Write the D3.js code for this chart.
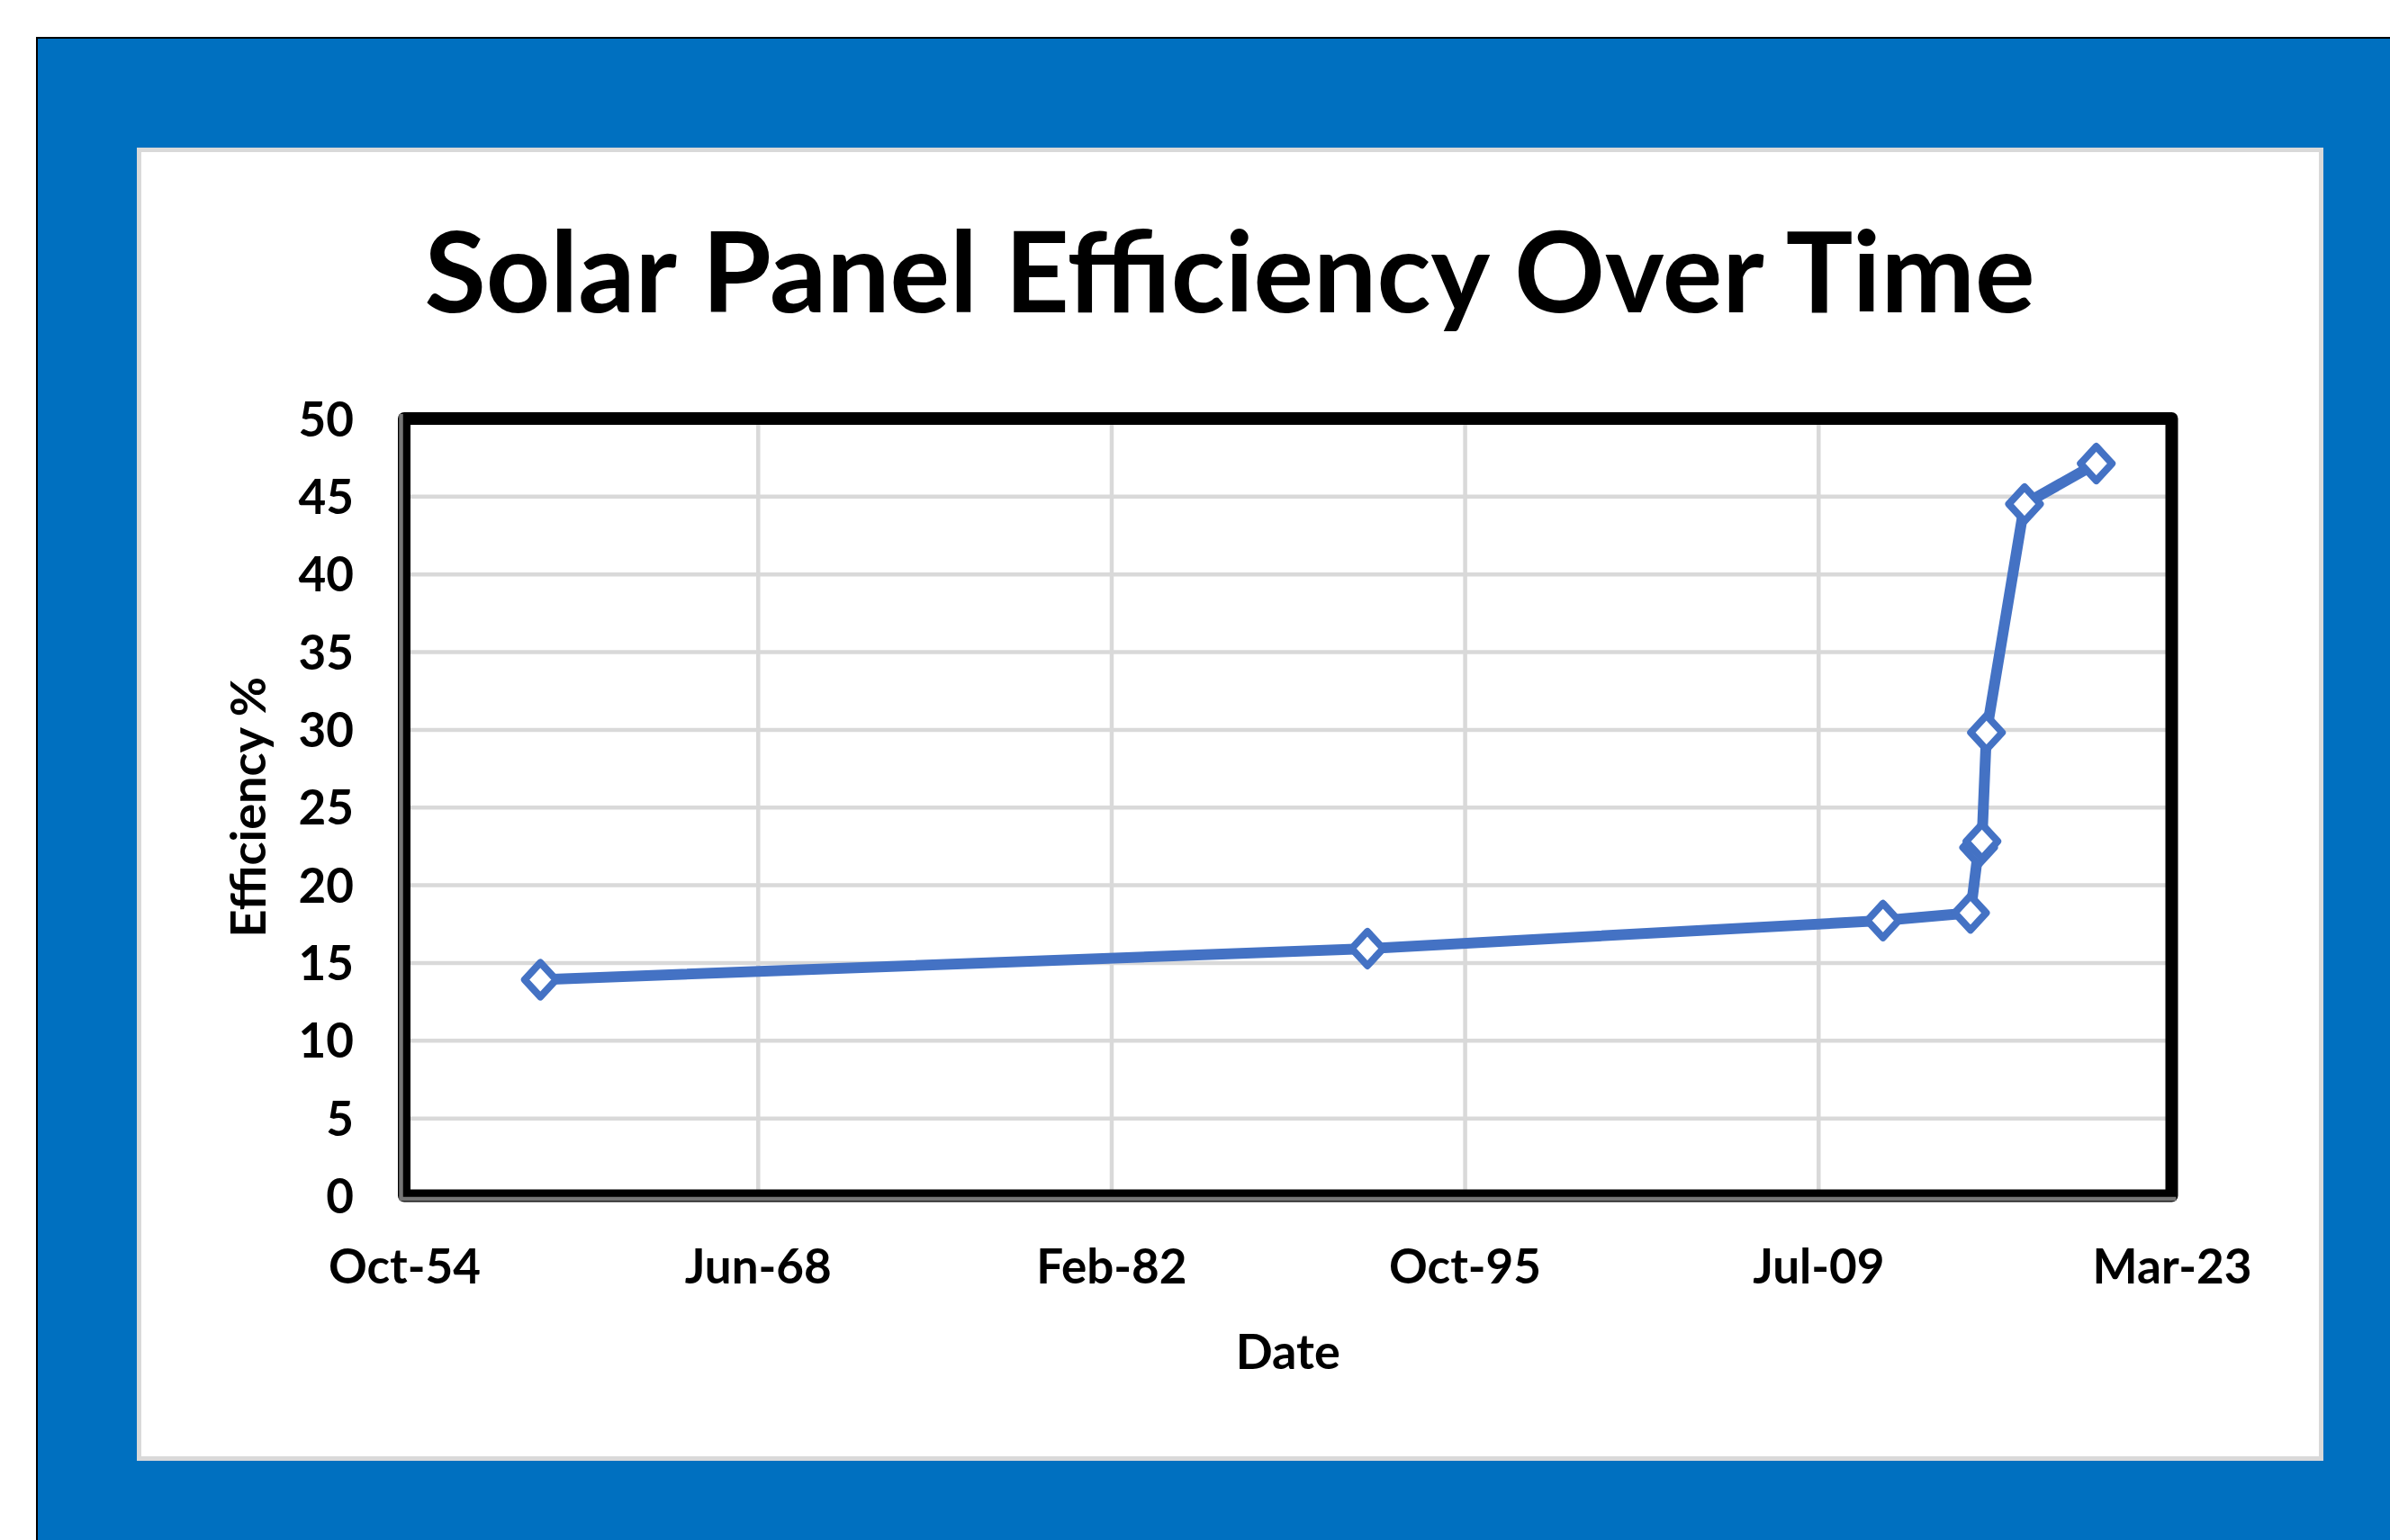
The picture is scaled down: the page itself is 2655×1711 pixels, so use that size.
<!DOCTYPE html>
<html>
<head>
<meta charset="utf-8">
<script src="https://cdn.jsdelivr.net/npm/d3@7"></script>
<style>
  body { margin: 0; background: #fff; }
  text { font-family: Lato, "Noto Sans", sans-serif; font-weight: bold; fill: #000; }
</style>
</head>
<body>
<div id="container"></div>
<script>
/* DATA */
const dates = ["1960-01-11", "1992-01-21", "2012-01-08", "2015-05-30", "2015-09-22",
               "2015-11-08", "2016-01-11", "2017-07-02", "2020-04-12"];
const efficiency = [13.9, 15.9, 17.7, 18.2, 22.4, 22.8, 29.8, 44.5, 47.1];

const yTicks = [0, 5, 10, 15, 20, 25, 30, 35, 40, 45, 50];
const xTickDates = ["1954-10-03", "1968-06-12", "1982-02-19", "1995-10-28", "2009-07-06", "2023-03-15"];
const xTickLabels = ["Oct-54", "Jun-68", "Feb-82", "Oct-95", "Jul-09", "Mar-23"];

const title = "Solar Panel Efficiency Over Time";
const xTitle = "Date";
const yTitle = "Efficiency %";

/* CONSTANTS */
const width = 2655,
  height = 1711;
const plot = { left: 449, right: 2412.5, top: 465, bottom: 1328.5 };
const lineColor = "#4472C4";

const parse = d3.utcParse("%Y-%m-%d");
const data = dates.map((d, i) => ({ date: parse(d), value: efficiency[i] }));
const tickDates = xTickDates.map(parse);

/* SCALES */
const xScale = d3.scaleUtc()
  .domain([tickDates[0], tickDates[tickDates.length - 1]])
  .range([plot.left, plot.right]);

const yScale = d3.scaleLinear()
  .domain([0, 50])
  .range([plot.bottom, plot.top]);

/* SVG */
const svg = d3.select("#container")
  .append("svg")
  .attr("width", width)
  .attr("height", height);

// blue backdrop
svg.append("rect")
  .attr("x", 41).attr("y", 42)
  .attr("width", width).attr("height", height)
  .attr("fill", "#0070C0")
  .attr("stroke", "#000")
  .attr("stroke-width", 2);

// white panel
svg.append("rect")
  .attr("x", 154.5).attr("y", 166.5)
  .attr("width", 2424).attr("height", 1454)
  .attr("fill", "#fff")
  .attr("stroke", "#d9d9d9")
  .attr("stroke-width", 5);

// gridlines
svg.append("g")
  .attr("transform", `translate(${plot.left},0)`)
  .call(d3.axisLeft(yScale).tickValues(yTicks).tickSize(-(plot.right - plot.left)).tickFormat(""))
  .call(g => g.select(".domain").remove())
  .selectAll("line")
  .attr("stroke", "#d9d9d9")
  .attr("stroke-width", 4.5);

svg.append("g")
  .attr("transform", `translate(0,${plot.bottom})`)
  .call(d3.axisBottom(xScale).tickValues(tickDates).tickSize(-(plot.bottom - plot.top)).tickFormat(""))
  .call(g => g.select(".domain").remove())
  .selectAll("line")
  .attr("stroke", "#d9d9d9")
  .attr("stroke-width", 4.5);

// plot frame
svg.append("rect")
  .attr("x", plot.left).attr("y", plot.top)
  .attr("width", plot.right - plot.left)
  .attr("height", plot.bottom - plot.top)
  .attr("fill", "none")
  .attr("stroke", "#000")
  .attr("stroke-width", 14)
  .attr("stroke-linejoin", "round");

// gray axis lines on left and bottom edges
svg.append("line")
  .attr("x1", plot.left - 3.5).attr("x2", plot.left - 3.5)
  .attr("y1", plot.top - 5).attr("y2", plot.bottom + 5)
  .attr("stroke", "#767676").attr("stroke-width", 4.5);
svg.append("line")
  .attr("x1", plot.left - 5).attr("x2", plot.right + 5)
  .attr("y1", plot.bottom + 3.5).attr("y2", plot.bottom + 3.5)
  .attr("stroke", "#767676").attr("stroke-width", 4.5);

/* AXES LABELS */
const yAxis = d3.axisLeft(yScale)
  .tickValues(yTicks)
  .tickSize(0)
  .tickPadding(56);

svg.append("g")
  .attr("transform", `translate(${plot.left},0)`)
  .call(yAxis)
  .call(g => g.select(".domain").remove())
  .selectAll("text")
  .attr("font-size", 53)
  .attr("dy", "0.36em");

const xAxis = d3.axisBottom(xScale)
  .tickValues(tickDates)
  .tickFormat((d, i) => xTickLabels[i])
  .tickSize(0);

svg.append("g")
  .attr("transform", `translate(0,${plot.bottom})`)
  .call(xAxis)
  .call(g => g.select(".domain").remove())
  .selectAll("text")
  .attr("font-size", 53)
  .attr("y", 78)
  .attr("dy", "0.36em");

svg.selectAll(".tick text").attr("fill", "#000");
svg.selectAll("g[font-family]").attr("font-family", null).attr("font-size", null);

/* LINE AND MARKERS */
const line = d3.line()
  .x(d => xScale(d.date))
  .y(d => yScale(d.value));

svg.append("path")
  .datum(data)
  .attr("d", line)
  .attr("fill", "none")
  .attr("stroke", lineColor)
  .attr("stroke-width", 12)
  .attr("stroke-linejoin", "round");

svg.selectAll(".marker")
  .data(data)
  .join("path")
  .attr("class", "marker")
  .attr("d", "M0,-19L17.5,0L0,19L-17.5,0Z")
  .attr("transform", d => `translate(${xScale(d.date)},${yScale(d.value)})`)
  .attr("fill", "#fff")
  .attr("stroke", lineColor)
  .attr("stroke-width", 8)
  .attr("stroke-linejoin", "round");

/* TITLES */
const t = svg.append("text")
  .attr("x", 1366).attr("y", 347)
  .attr("text-anchor", "middle")
  .attr("font-size", 130)
  .text(title);
const tw = t.node().getComputedTextLength();
t.attr("font-size", 130 * 1789 / tw);

svg.append("text")
  .attr("x", (plot.left + plot.right) / 2).attr("y", 1502)
  .attr("text-anchor", "middle")
  .attr("dy", "0.36em")
  .attr("font-size", 54)
  .text(xTitle);

svg.append("text")
  .attr("transform", `translate(276,${(plot.top + plot.bottom) / 2}) rotate(-90)`)
  .attr("text-anchor", "middle")
  .attr("dy", "0.36em")
  .attr("font-size", 54)
  .text(yTitle);
</script>
</body>
</html>
